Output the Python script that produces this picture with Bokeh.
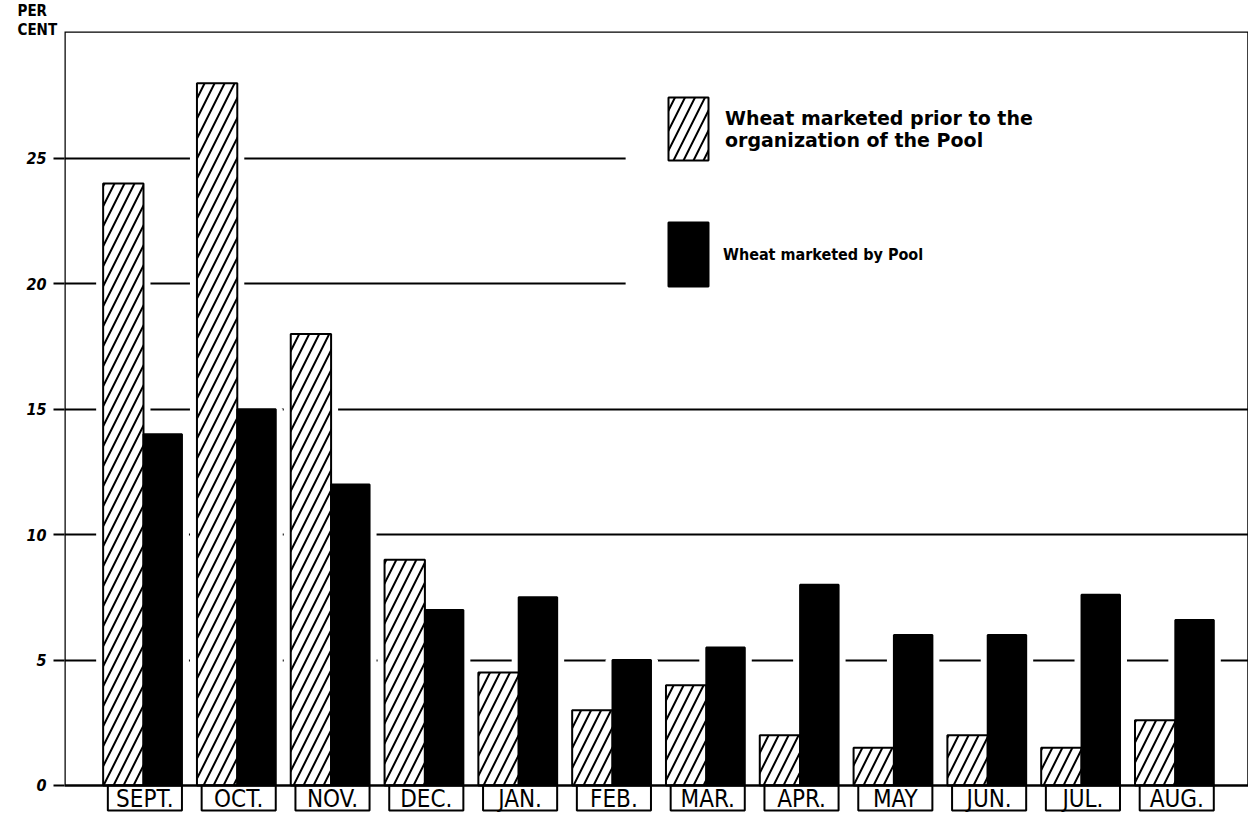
from bokeh.plotting import figure
from bokeh.models import (Range1d, FixedTicker, BoxAnnotation, Legend, LegendItem,
                          Title, ColumnDataSource)
from bokeh.transform import dodge
from bokeh.core.properties import value
from bokeh.embed import file_html
from bokeh.resources import INLINE

months = ["SEPT.", "OCT.", "NOV.", "DEC.", "JAN.", "FEB.", "MAR.", "APR.",
          "MAY", "JUN.", "JUL.", "AUG."]
prior_to_pool = [24, 28, 18, 9, 4.5, 3, 4, 2, 1.5, 2, 1.5, 2.6]
by_pool = [14, 15, 12, 7, 7.5, 5, 5.5, 8, 6, 6, 7.6, 6.6]
y_ticks = [0, 5, 10, 15, 20, 25]
grid_ticks = [5, 10, 15, 20, 25]
label_prior = "Wheat marketed prior to the\norganization of the Pool"
label_pool = "Wheat marketed by Pool"
unit_label = "PER\nCENT"

source = ColumnDataSource(dict(pos=list(range(len(months))), month=months,
                               prior=prior_to_pool, pool=by_pool))

p = figure(width=1248, height=812,
           x_range=Range1d(-0.842, 11.78), y_range=Range1d(-1.077, 30.06),
           output_backend="svg", toolbar_location=None,
           min_border_left=64, min_border_right=0, min_border_top=31,
           min_border_bottom=0)
p.xaxis.visible = False
p.outline_line_color = None
p.xgrid.visible = False
p.ygrid.ticker = FixedTicker(ticks=grid_ticks)
p.ygrid.grid_line_color = "black"
p.ygrid.grid_line_width = 2

ax = p.yaxis[0]
ax.ticker = FixedTicker(ticks=y_ticks)
ax.axis_line_color = None
ax.major_tick_out = 11
ax.major_tick_in = 0
ax.major_tick_line_width = 2
ax.minor_tick_line_color = None
ax.major_label_text_font = "DejaVu Sans Condensed"
ax.major_label_text_font_style = "bold italic"
ax.major_label_text_font_size = "16px"
ax.major_label_text_color = "black"
ax.major_label_standoff = 7

# white area behind the legend (grid lines stop there)
p.add_layout(BoxAnnotation(left=5.14, bottom=17.5, fill_color="white", fill_alpha=1,
                           line_color=None, level="underlay"))

# white halos so grid lines stop short of the bars
for field, off, w in (("prior", -0.215, 0.43), ("pool", 0.205, 0.41)):
    p.vbar(x=dodge("pos", off), width=w, top=field, bottom=0, source=source,
           fill_color="white", line_color="white", line_width=14)

r_prior = p.vbar(x=dodge("pos", -0.215), width=0.43, top="prior", bottom=0, source=source,
                 fill_color="white", line_color="black", line_width=2,
                 hatch_pattern="/", hatch_color="black", hatch_scale=20, hatch_weight=2)
r_pool = p.vbar(x=dodge("pos", 0.205), width=0.41, top="pool", bottom=0, source=source,
                fill_color="black", line_color="black", line_width=2)

# month label boxes
p.quad(left=dodge("pos", -0.38), right=dodge("pos", 0.41), bottom=-1.0, top=0,
       source=source, fill_color="white", line_color="black", line_width=2)
p.text(x=dodge("pos", 0.015), y=-0.52, text="month", source=source,
       text_align="center", text_baseline="middle",
       text_font=value("DejaVu Sans Condensed"), text_font_size="24px", text_color="black")

# frame border above zero
p.add_layout(BoxAnnotation(bottom=0, fill_alpha=0, line_color="black", line_alpha=1,
                           line_width=2.5))

leg1 = Legend(items=[LegendItem(label=label_prior, renderers=[r_prior])],
              location=(599, 644), glyph_width=50, glyph_height=79, label_standoff=12,
              padding=0, margin=0, border_line_color=None, background_fill_alpha=0,
              label_text_font="DejaVu Sans", label_text_font_style="bold",
              label_text_font_size="19px", label_text_color="black")
leg2 = Legend(items=[LegendItem(label=label_pool, renderers=[r_pool])],
              location=(599, 518), glyph_width=50, glyph_height=80, label_standoff=10,
              padding=0, margin=0, border_line_color=None, background_fill_alpha=0,
              label_text_font="DejaVu Sans Condensed", label_text_font_style="bold",
              label_text_font_size="16px", label_text_color="black")
p.add_layout(leg1)
p.add_layout(leg2)

p.add_layout(Title(text=unit_label, align="left", offset=-47, standoff=-15,
                   text_font="DejaVu Sans Condensed", text_font_style="bold",
                   text_font_size="15px", text_line_height=1.05, text_color="black"),
             "above")

open("out.html", "w").write(file_html(p, INLINE))
